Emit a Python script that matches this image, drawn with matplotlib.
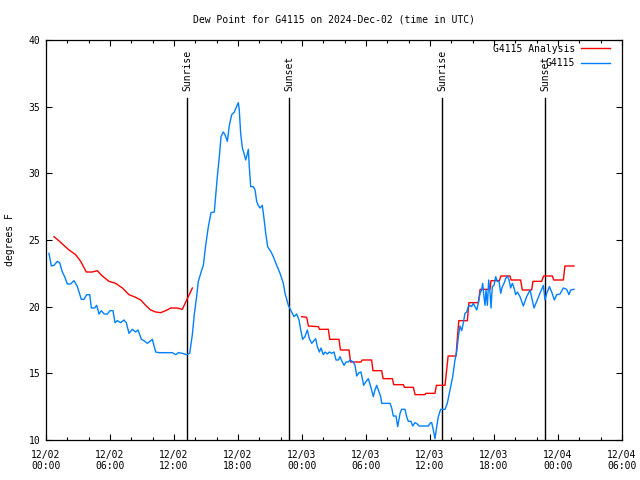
import numpy as np
import matplotlib
matplotlib.use('Agg')
import matplotlib.pyplot as plt

# hours since 2024-12-02 00:00 UTC
obs_t = [0.28, 0.5, 0.75, 1.06, 1.28, 1.53, 1.75, 2.0, 2.3, 2.63, 2.94, 3.31, 3.56, 3.81, 4.1,
         4.25, 4.56, 4.75, 4.97, 5.19, 5.44, 5.75, 6.0, 6.28, 6.47, 6.69, 7.0, 7.31, 7.53, 7.78,
         8.1, 8.41, 8.63, 8.94, 9.19, 9.5, 9.75, 9.97, 10.28, 10.6, 11.38, 11.84, 12.16, 12.41,
         12.78, 13.19, 13.47, 13.72, 13.9, 14.12, 14.28, 14.6, 14.75, 14.97, 15.22, 15.47, 15.78,
         15.9, 16.06, 16.25, 16.41, 16.62, 16.78, 17.0, 17.19, 17.41, 17.66, 17.81, 18.03, 18.12,
         18.25, 18.41, 18.56, 18.72, 18.81, 18.97, 19.06, 19.19, 19.44, 19.6, 19.75, 19.9, 20.06,
         20.28, 20.44, 20.6, 20.78, 21.1, 21.31, 21.63, 21.94, 22.25, 22.41, 22.72, 23.03, 23.25,
         23.5, 23.72, 23.88, 24.06, 24.28, 24.5, 24.69, 24.91, 25.06, 25.28, 25.44, 25.63, 25.78,
         26.0, 26.16, 26.38, 26.56, 26.78, 27.0, 27.19, 27.41, 27.56, 27.72, 27.94, 28.13, 28.34,
         28.5, 28.81, 28.97, 29.13, 29.34, 29.53, 29.78, 29.97, 30.22, 30.44, 30.69, 30.84, 31.0,
         31.16, 31.38, 31.47, 32.25, 32.41, 32.56, 32.81, 32.97, 33.19, 33.34, 33.66, 33.81, 33.97,
         34.22, 34.38, 34.59, 34.81, 34.97, 35.84, 36.06, 36.16, 36.31, 36.47, 36.63, 36.78, 37.0,
         37.41, 37.62, 37.88, 38.13, 38.34, 38.5, 38.66, 38.81, 38.97, 39.12, 39.28, 39.44, 39.59,
         39.75, 39.9, 40.06, 40.22, 40.38, 40.53, 40.69, 40.84, 40.94, 41.06, 41.16, 41.25, 41.38,
         41.5, 41.63, 41.72, 41.84, 42.0, 42.16, 42.31, 42.47, 42.63, 42.78, 42.94, 43.09, 43.25,
         43.41, 43.56, 43.72, 43.88, 44.03, 44.19, 44.44, 44.75, 45.06, 45.38, 45.75, 46.0, 46.31,
         46.63, 46.78, 46.94, 47.19, 47.41, 47.66, 47.88, 48.19, 48.5, 48.81, 49.03, 49.19, 49.5]
obs_v = [24.0, 23.05, 23.1, 23.4, 23.3, 22.6, 22.25, 21.7, 21.7, 21.95, 21.5, 20.55, 20.55, 20.9, 20.9,
         19.9, 19.9, 20.1, 19.45, 19.7, 19.45, 19.45, 19.7, 19.7, 18.8, 18.95, 18.8, 19.0, 18.8, 18.0,
         18.3, 18.1, 18.25, 17.55, 17.45, 17.25, 17.4, 17.55, 16.6, 16.55, 16.55, 16.55, 16.4, 16.55,
         16.5, 16.4, 16.5, 17.9, 19.4, 20.75, 21.9, 22.75, 23.1, 24.6, 26.0, 27.05, 27.1,
         28.25, 29.75, 31.25, 32.75, 33.1, 32.9, 32.4, 33.6, 34.4, 34.6, 34.9, 35.3, 34.75,
         33.0, 31.9, 31.5, 31.0, 31.25, 31.8, 30.5, 29.0, 29.0, 28.75, 27.9, 27.6, 27.4,
         27.6, 26.6, 25.5, 24.5, 24.1, 23.75, 23.1, 22.5, 21.75, 21.0, 20.1, 19.6, 19.25,
         19.45, 19.0, 18.25, 17.55, 17.75, 18.25, 17.6, 17.25, 17.4, 17.6, 17.0, 16.6, 16.9,
         16.4, 16.6, 16.45, 16.6, 16.5, 16.6, 16.0, 16.0, 16.25, 15.95, 15.6, 15.85, 15.85,
         16.0, 15.85, 15.6, 14.8, 15.05, 15.1, 14.1, 14.35, 14.6, 14.0, 13.25, 13.75, 14.1,
         13.75, 13.25, 12.75, 12.75, 12.4, 11.8, 11.8, 11.0, 12.0, 12.3, 12.3, 11.75, 11.4,
         11.4, 11.05, 11.3, 11.2, 11.05, 11.05, 11.3, 11.3, 10.75, 10.1, 11.0, 11.75, 12.3,
         12.3, 12.75, 13.75, 14.75, 16.0, 16.6, 17.75, 18.55, 18.2, 18.75, 19.5, 19.6, 20.0,
         20.1, 20.0, 20.25, 20.0, 19.75, 20.25, 21.0, 21.25, 21.75, 20.75, 20.1, 21.25, 20.1,
         22.0, 21.0, 19.9, 21.5, 21.6, 22.25, 21.9, 21.9, 21.0, 21.5, 21.75, 22.1, 22.3,
         22.0, 21.4, 21.75, 21.4, 20.9, 21.1, 20.75, 20.05, 20.75, 21.25, 19.9, 20.4, 21.0,
         21.6, 20.5, 21.0, 21.5, 21.1, 20.5, 20.9, 20.95, 21.4, 21.3, 20.9, 21.25, 21.3]

# analysis series, NaN marks the gap
ana_t = [0.75, 1.12, 2.16, 2.78, 3.25, 3.78, 4.34, 4.81, 5.28, 5.9, 6.53, 7.16, 7.78, 8.41, 8.88,
         9.34, 9.81, 10.28, 10.75, 11.22, 11.69, 12.31, 12.78, 13.25, 13.72, 18.0,
         23.97, 24.44, 24.6, 25.53, 25.65, 26.47, 26.6, 27.47, 27.6, 28.41, 28.55, 29.53, 29.65,
         30.53, 30.65, 31.47, 31.6, 32.47, 32.6, 33.5, 33.6, 34.44, 34.6, 35.53, 35.6, 36.47,
         36.6, 37.41, 37.56, 37.7, 38.44, 38.56, 38.7, 39.5, 39.65, 40.53, 40.7, 41.63, 41.72,
         42.5, 42.65, 43.5, 43.6, 44.5, 44.65, 45.53, 45.65, 46.47, 46.65, 47.47, 47.6, 48.5,
         48.65, 49.5]
ana_v = [25.25, 25.0, 24.25, 23.9, 23.4, 22.6, 22.6, 22.7, 22.3, 21.9, 21.75, 21.4, 20.9, 20.7, 20.5,
         20.1, 19.75, 19.6, 19.55, 19.7, 19.9, 19.9, 19.8, 20.6, 21.4, np.nan,
         19.25, 19.2, 18.55, 18.5, 18.3, 18.3, 17.55, 17.55, 16.75, 16.75, 15.85, 15.85, 16.0,
         16.0, 15.2, 15.2, 14.6, 14.6, 14.15, 14.15, 13.95, 13.95, 13.4, 13.4, 13.5, 13.5,
         14.1, 14.1, 15.25, 16.3, 16.3, 17.6, 18.95, 18.95, 20.3, 20.3, 21.3, 21.3, 21.95,
         21.95, 22.3, 22.3, 22.0, 22.0, 21.25, 21.25, 21.9, 21.9, 22.3, 22.3, 22.0, 22.0,
         23.05, 23.05]

sun_t = [13.22, 22.78, 37.13, 46.78]
sun_lbl = ['Sunrise', 'Sunset', 'Sunrise', 'Sunset']

xticks = [0, 6, 12, 18, 24, 30, 36, 42, 48, 54]
xlabels = ['12/02\n00:00', '12/02\n06:00', '12/02\n12:00', '12/02\n18:00', '12/03\n00:00',
           '12/03\n06:00', '12/03\n12:00', '12/03\n18:00', '12/04\n00:00', '12/04\n06:00']

plt.rcParams['font.family'] = 'DejaVu Sans Mono'
plt.rcParams['font.size'] = 7

fig = plt.figure(figsize=(6.4, 4.8), dpi=100)
ax = fig.add_axes([46/640, 40/480, 576/640, 400/480])

for t, s in zip(sun_t, sun_lbl):
    ax.plot([t, t], [10, 35.65], color='black', lw=1.0)
    ax.text(t, 36.2, s, rotation=90, ha='center', va='bottom', fontsize=7)

ax.plot(ana_t, ana_v, color='#ff0000', lw=1.0, label='G4115 Analysis')
ax.plot(obs_t, obs_v, color='#0080ff', lw=1.0, label='G4115')

ax.set_xlim(0, 54)
ax.set_ylim(10, 40)
ax.set_xticks(xticks)
ax.set_xticklabels(xlabels, linespacing=1.1)
ax.set_xticks(np.arange(0, 55, 2), minor=True)
ax.set_yticks([10, 15, 20, 25, 30, 35, 40])
ax.tick_params(which='both', direction='in', top=True, right=True, width=0.8)
ax.tick_params(which='major', length=4.5)
ax.tick_params(which='minor', length=2.2)
ax.tick_params(axis='x', which='major', pad=7.5)
ax.tick_params(axis='y', which='major', pad=4)
for sp in ax.spines.values():
    sp.set_linewidth(0.9)

ax.legend(loc='upper right', bbox_to_anchor=(0.991, 1.008), markerfirst=False, frameon=False,
          handlelength=3.0, handletextpad=0.6, labelspacing=0.45, borderaxespad=0.3, fontsize=7)

fig.text(334/640, 1 - 20/480, 'Dew Point for G4115 on 2024-Dec-02 (time in UTC)',
         ha='center', va='center', fontsize=7)
fig.text(10/640, 0.5, 'degrees F', rotation=90, ha='center', va='center', fontsize=7)

fig.savefig('out.png', dpi=100)
